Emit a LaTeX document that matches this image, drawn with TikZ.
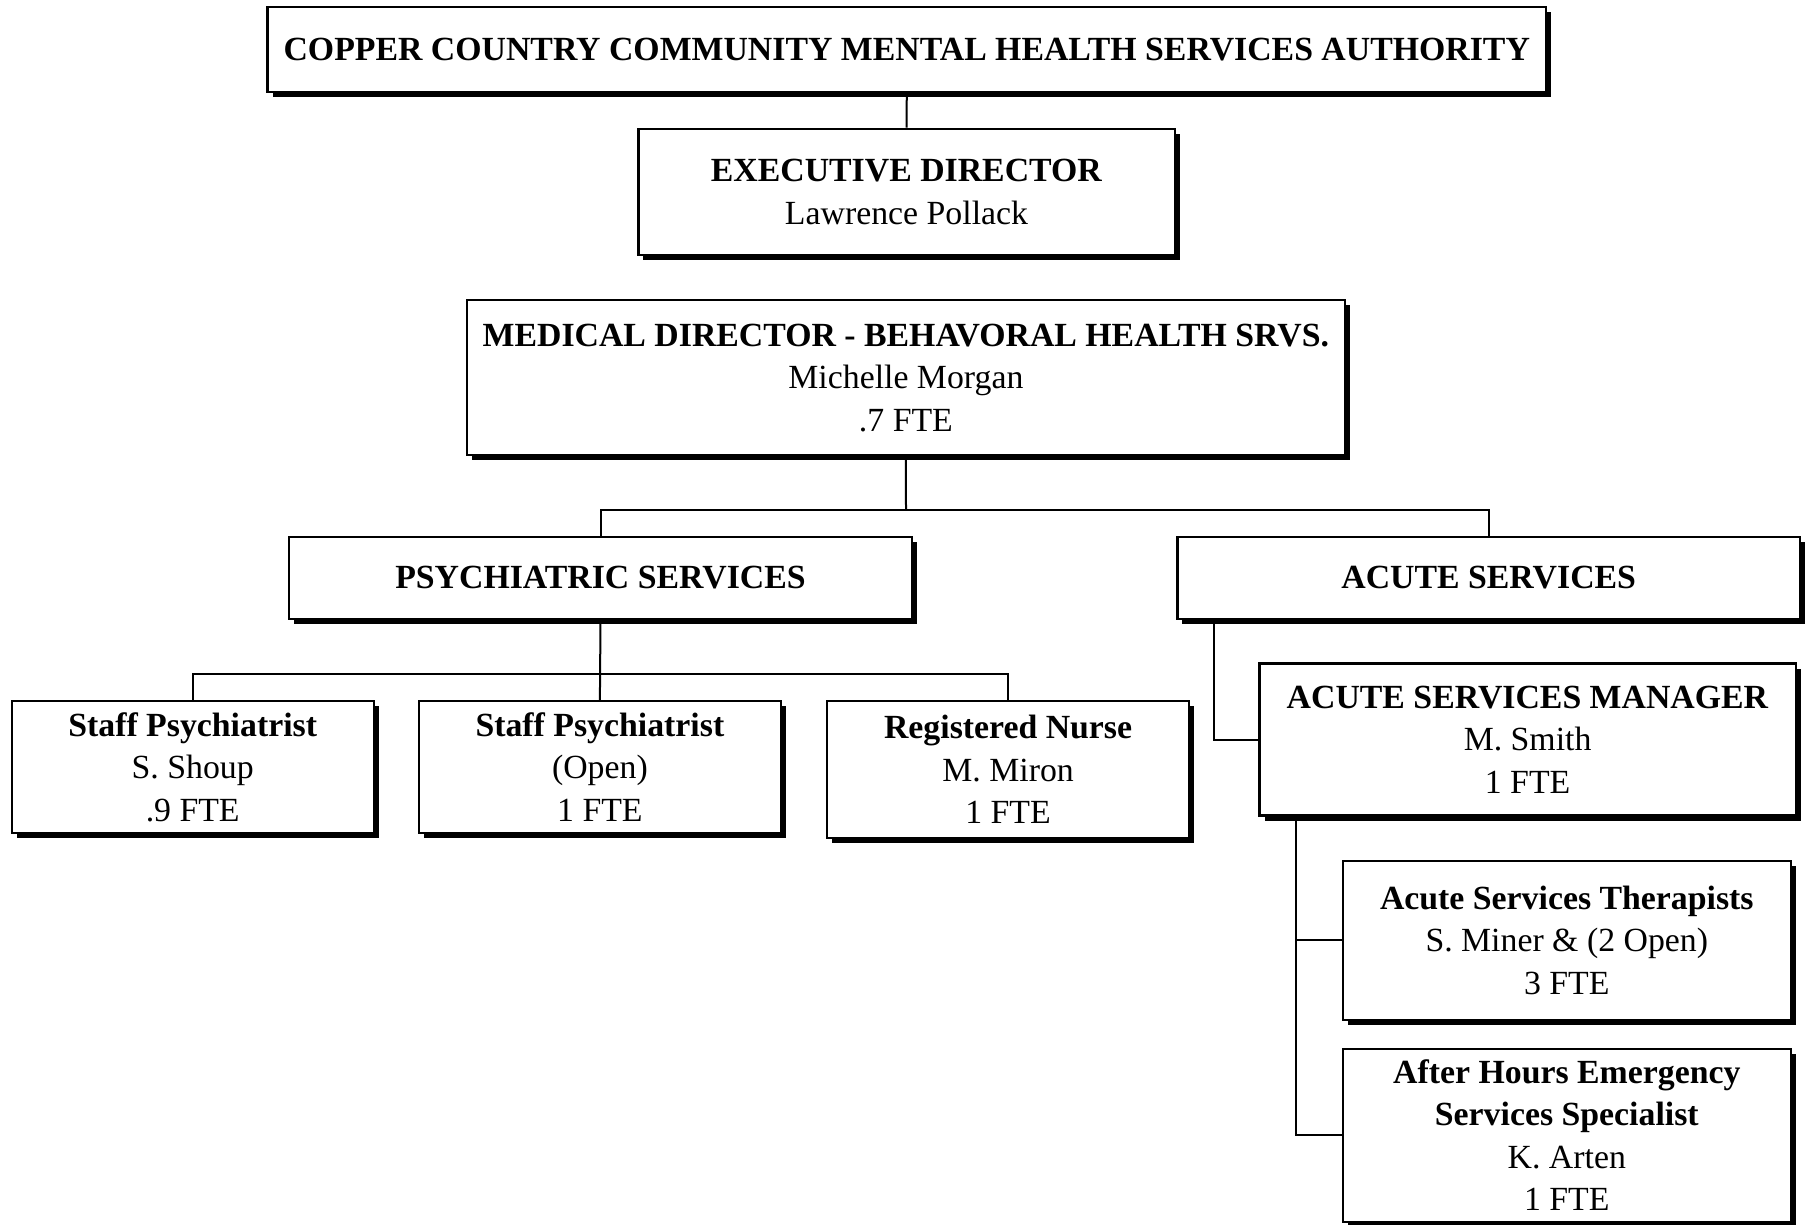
\documentclass[tikz,border=0pt]{standalone}
\usepackage{fontspec}
\setmainfont{Liberation Serif}
\usetikzlibrary{shadows}
\begin{document}
\begin{tikzpicture}[x=1pt,y=-1pt,
  orgbox/.style={draw, line width=2.2pt, fill=white, align=center, inner sep=0pt,
    font=\fontsize{33.8}{42.5}\selectfont,
    drop shadow={opacity=1, fill=black, shadow xshift=5pt, shadow yshift=-5pt}},
  link/.style={line width=2pt}]
\fill[white] (0,0) rectangle (1813,1225);
\useasboundingbox (0,0) rectangle (1813,1225);

\node[orgbox, minimum width=1278.5pt, minimum height=85.4pt] (top) at (906.8,49.7)
  {\textbf{COPPER COUNTRY COMMUNITY MENTAL HEALTH SERVICES AUTHORITY}};
\node[orgbox, minimum width=536.2pt, minimum height=126.7pt] (exec) at (906.5,192)
  {\textbf{EXECUTIVE DIRECTOR}\\Lawrence Pollack};
\node[orgbox, minimum width=878.2pt, minimum height=154.8pt] (med) at (905.9,377.6)
  {\textbf{MEDICAL DIRECTOR - BEHAVORAL HEALTH SRVS.}\\Michelle Morgan\\.7 FTE};
\node[orgbox, minimum width=623pt, minimum height=82pt] (psych) at (600.5,578)
  {\textbf{PSYCHIATRIC SERVICES}};
\node[orgbox, minimum width=622.5pt, minimum height=82pt] (acute) at (1488.7,578)
  {\textbf{ACUTE SERVICES}};
\node[orgbox, minimum width=362.2pt, minimum height=132pt] (s1) at (192.7,767)
  {\textbf{Staff Psychiatrist}\\S. Shoup\\.9 FTE};
\node[orgbox, minimum width=362.2pt, minimum height=132pt] (s2) at (599.9,767)
  {\textbf{Staff Psychiatrist}\\(Open)\\1 FTE};
\node[orgbox, minimum width=361.7pt, minimum height=137pt] (rn) at (1008.1,769.5)
  {\textbf{Registered Nurse}\\M. Miron\\1 FTE};
\node[orgbox, minimum width=536.1pt, minimum height=152pt] (mgr) at (1527.6,739.5)
  {\textbf{ACUTE SERVICES MANAGER}\\M. Smith\\1 FTE};
\node[orgbox, minimum width=448.3pt, minimum height=159.3pt] (ther) at (1566.8,940.3)
  {\textbf{Acute Services Therapists}\\S. Miner \& (2 Open)\\3 FTE};
\node[orgbox, minimum width=448.3pt, minimum height=173.4pt] (ah) at (1566.8,1135.3)
  {\textbf{After Hours Emergency}\\\textbf{Services Specialist}\\K. Arten\\1 FTE};

\coordinate (busA) at (906,510);
\coordinate (busB) at (600.5,673.6);

\draw[link] (top.south) -- (exec.north);
\draw[link] (med.south) -- (busA);
\draw[link] (psych.north) |- (busA) -| (acute.north);
\draw[link] (psych.south) -- (s2.north);
\draw[link] (s1.north) |- (busB) -| (rn.north);
\draw[link] ([xshift=37.5pt]acute.south west) |- (mgr.west);
\draw[link] ([xshift=38pt]mgr.south west) |- (ther.west);
\draw[link] ([xshift=38pt]mgr.south west) |- (ah.west);
\end{tikzpicture}
\end{document}
